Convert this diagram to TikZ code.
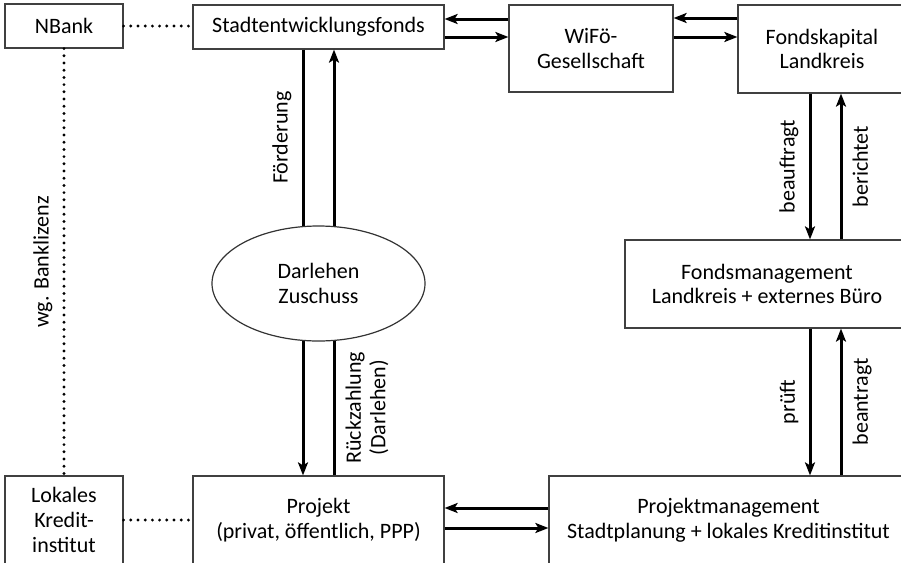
\documentclass[tikz,border=0pt]{standalone}
\usepackage{fontspec}
\setmainfont{Carlito}
\usetikzlibrary{arrows.meta,shapes.geometric}

\tikzset{
  txt/.style={font=\fontsize{11}{12.3}\selectfont},
  box/.style={txt, draw=black!75, line width=0.6pt, rectangle, inner sep=0pt, align=center},
  flow/.style={line width=1.5pt, -{Stealth[length=6.5pt,width=5pt,inset=1.5pt]}},
  link/.style={line width=1.6pt, dash pattern=on 0pt off 3.6pt, line cap=round},
  lbl/.style={txt, rotate=90, inner sep=5pt, align=center},
}

\begin{document}
\begin{tikzpicture}[x=0.5pt,y=-0.5pt]
  \useasboundingbox (0,0) rectangle (901,563);

  % boxes
  \node[box, minimum width=59pt, minimum height=22pt] (nbank) at (64,26) {NBank};
  \node[box, minimum width=125.5pt, minimum height=22pt] (fonds) at (318.5,27) {Stadtentwicklungsfonds};
  \node[box, minimum width=82pt, minimum height=43.5pt] (wifoe) at (591,48.5) {WiFö-\\Gesellschaft};
  \node[box, minimum width=84pt, minimum height=44pt] (kapital) at (822,49) {Fondskapital\\Landkreis};
  \node[box, minimum width=142pt, minimum height=44pt] (management) at (767,284) {Fondsmanagement\\Landkreis + externes Büro};
  \node[box, minimum width=179.5pt, minimum height=44pt] (projmgmt) at (728.5,520) {Projektmanagement\\Stadtplanung + lokales Kreditinstitut};
  \node[box, minimum width=125.5pt, minimum height=44pt] (projekt) at (318.5,520) {Projekt\\(privat, öffentlich, PPP)};
  \node[box, minimum width=59pt, minimum height=44pt] (lokal) at (64,520) {Lokales\\Kredit-\\institut};

  % dotted links
  \draw[link] (nbank.east) -- (nbank.east -| fonds.west);
  \draw[link] (nbank.south) -- (lokal.north)
    node[lbl, anchor=south, midway] {wg. Banklizenz};
  \draw[link] (lokal.east) -- (lokal.east -| projekt.west);

  % top row
  \draw[flow] ([shift={(0,-8)}]fonds.east -| wifoe.west) -- ([shift={(0,-8)}]fonds.east);
  \draw[flow] ([shift={(0,10)}]fonds.east) -- ([shift={(0,10)}]fonds.east -| wifoe.west);
  \draw[flow] ([shift={(0,-31)}]kapital.west) -- ([shift={(0,-31)}]kapital.west -| wifoe.east);
  \draw[flow] ([shift={(0,-12)}]kapital.west -| wifoe.east) -- ([shift={(0,-12)}]kapital.west);

  % left column
  \draw[flow] ([shift={(-15.5,0)}]fonds.south) -- ([shift={(-15.5,0)}]fonds.south |- projekt.north)
    node[lbl, anchor=south, pos=0.207] {Förderung};
  \draw[flow] ([shift={(15.5,0)}]projekt.north) -- ([shift={(15.5,0)}]projekt.north |- fonds.south)
    node[lbl, anchor=north, pos=0.159] {Rückzahlung\\(Darlehen)};
  \node[txt, draw=black!80, line width=0.6pt, fill=white, ellipse, inner sep=0pt,
        minimum width=106.5pt, minimum height=57.5pt, align=center] (zuschuss) at (318.5,283.5) {Darlehen\\Zuschuss};

  % right column
  \draw[flow] ([shift={(-12,0)}]kapital.south) -- ([shift={(-12,0)}]kapital.south |- management.north)
    node[lbl, anchor=south, midway] {beauftragt};
  \draw[flow] ([shift={(19,0)}]kapital.south |- management.north) -- ([shift={(19,0)}]kapital.south)
    node[lbl, anchor=north, midway] {berichtet};
  \draw[flow] ([shift={(43,0)}]management.south) -- ([shift={(43,0)}]management.south |- projmgmt.north)
    node[lbl, anchor=south, midway] {prüft};
  \draw[flow] ([shift={(74,0)}]management.south |- projmgmt.north) -- ([shift={(74,0)}]management.south)
    node[lbl, anchor=north, midway] {beantragt};

  % bottom row
  \draw[flow] ([shift={(0,-12)}]projmgmt.west) -- ([shift={(0,-12)}]projmgmt.west -| projekt.east);
  \draw[flow] ([shift={(0,8)}]projmgmt.west -| projekt.east) -- ([shift={(0,8)}]projmgmt.west);
\end{tikzpicture}
\end{document}
